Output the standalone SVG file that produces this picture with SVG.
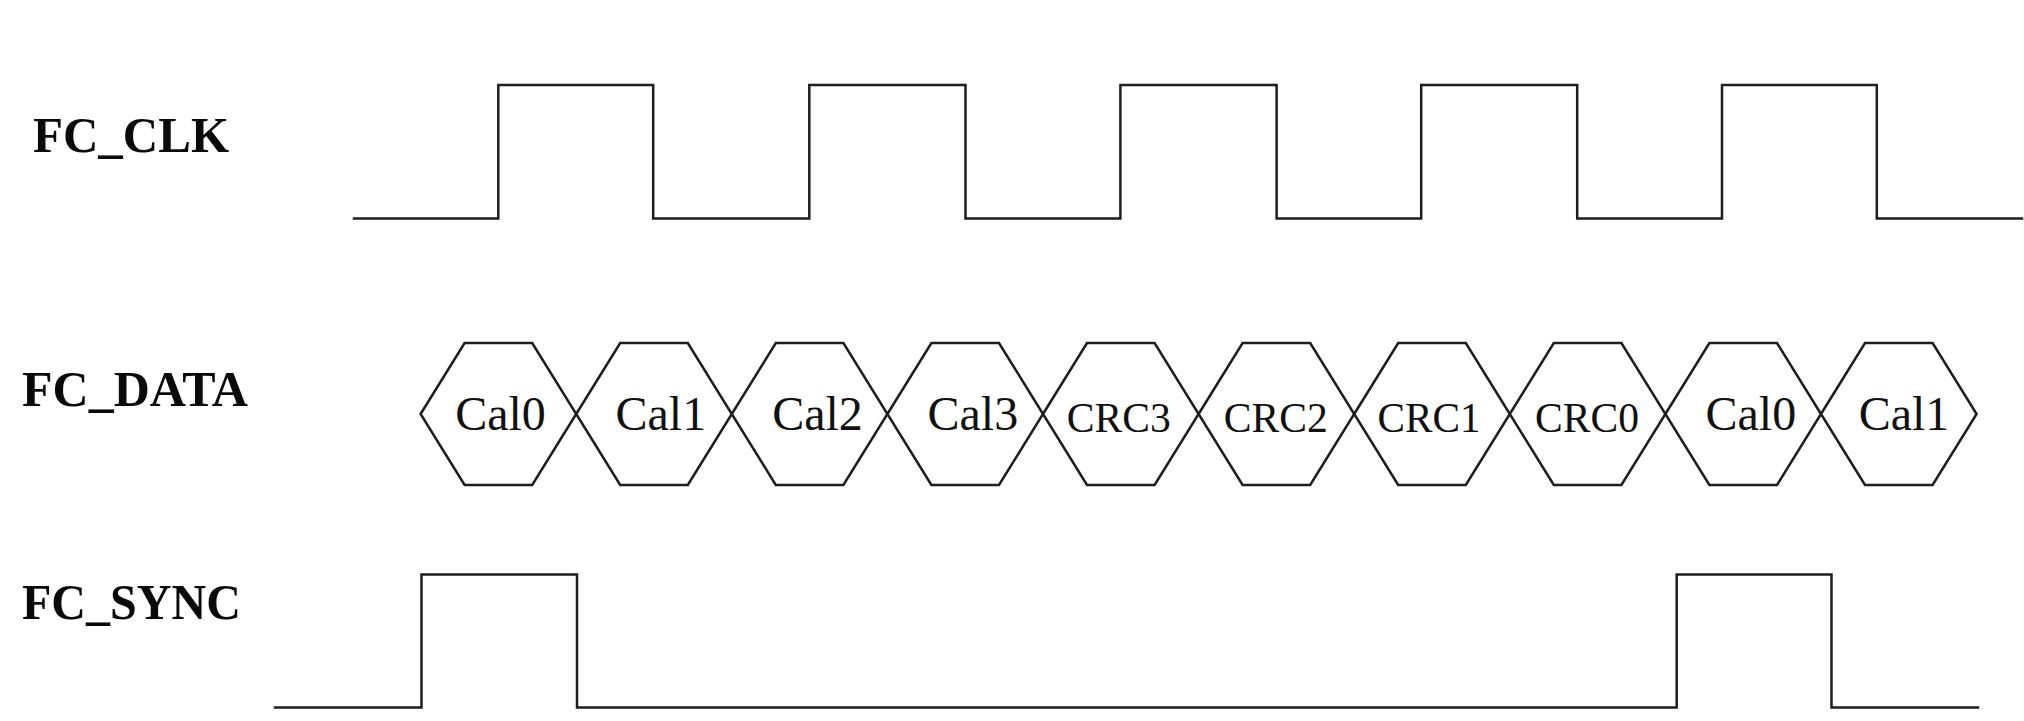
<svg xmlns="http://www.w3.org/2000/svg" width="2024" height="721" viewBox="0 0 2024 721">
<style>
.bg{fill:#ffffff}
.wave{fill:none;stroke:#1e1e1e;stroke-width:2.5;stroke-linejoin:miter;stroke-linecap:square}
.hex{fill:#ffffff;stroke:#1e1e1e;stroke-width:2.5;stroke-linejoin:miter}
.sig{font-family:"Liberation Serif","Times New Roman",serif;font-weight:bold;fill:#0a0a0a}
.cal{font-family:"Liberation Serif","Times New Roman",serif;font-size:48px;fill:#111;text-anchor:middle}
.crc{font-family:"Liberation Serif","Times New Roman",serif;font-size:42px;fill:#111;text-anchor:middle}
</style>
<rect class="bg" x="0" y="0" width="2024" height="721"/>

<g id="label-fc-clk"><text class="sig" x="33" y="152" font-size="50" textLength="196" lengthAdjust="spacingAndGlyphs">FC_CLK</text></g>
<g id="label-fc-data"><text class="sig" x="22" y="406" font-size="50" textLength="226" lengthAdjust="spacingAndGlyphs">FC_DATA</text></g>
<g id="label-fc-sync"><text class="sig" x="22" y="619" font-size="50" textLength="219" lengthAdjust="spacingAndGlyphs">FC_SYNC</text></g>

<g id="wave-fc-clk">
<path class="wave" d="M354,218.5 H498.3 V85 H653.2 V218.5 H809.3 V85 H965.5 V218.5 H1120.4 V85 H1276.6 V218.5 H1421.2 V85 H1577.2 V218.5 H1722 V85 H1876.8 V218.5 H2022"/>
</g>

<g id="wave-fc-data">
<g id="hex-cal0-a"><polygon class="hex" points="420.6,414 464.6,343 532.2,343 576.2,414 532.2,485 464.6,485"/><text class="cal" x="500.5" y="430">Cal0</text></g>
<g id="hex-cal1-a"><polygon class="hex" points="576.2,414 620.2,343 687.8,343 731.8,414 687.8,485 620.2,485"/><text class="cal" x="660.8" y="430">Cal1</text></g>
<g id="hex-cal2"><polygon class="hex" points="731.8,414 775.8,343 843.4,343 887.4,414 843.4,485 775.8,485"/><text class="cal" x="817.5" y="430">Cal2</text></g>
<g id="hex-cal3"><polygon class="hex" points="887.4,414 931.4,343 999,343 1043,414 999,485 931.4,485"/><text class="cal" x="972.8" y="430">Cal3</text></g>
<g id="hex-crc3"><polygon class="hex" points="1043,414 1087,343 1154.6,343 1198.6,414 1154.6,485 1087,485"/><text class="crc" x="1118.7" y="431.5" textLength="104" lengthAdjust="spacingAndGlyphs">CRC3</text></g>
<g id="hex-crc2"><polygon class="hex" points="1198.6,414 1242.6,343 1310.2,343 1354.2,414 1310.2,485 1242.6,485"/><text class="crc" x="1275.8" y="431.5" textLength="104" lengthAdjust="spacingAndGlyphs">CRC2</text></g>
<g id="hex-crc1"><polygon class="hex" points="1354.2,414 1398.2,343 1465.8,343 1509.8,414 1465.8,485 1398.2,485"/><text class="crc" x="1429" y="431.5" textLength="103" lengthAdjust="spacingAndGlyphs">CRC1</text></g>
<g id="hex-crc0"><polygon class="hex" points="1509.8,414 1553.8,343 1621.4,343 1665.4,414 1621.4,485 1553.8,485"/><text class="crc" x="1587" y="431.5" textLength="104" lengthAdjust="spacingAndGlyphs">CRC0</text></g>
<g id="hex-cal0-b"><polygon class="hex" points="1665.4,414 1709.4,343 1777,343 1821,414 1777,485 1709.4,485"/><text class="cal" x="1750.8" y="430">Cal0</text></g>
<g id="hex-cal1-b"><polygon class="hex" points="1821,414 1865,343 1932.6,343 1976.6,414 1932.6,485 1865,485"/><text class="cal" x="1904" y="430">Cal1</text></g>
</g>

<g id="wave-fc-sync">
<path class="wave" d="M275,707.5 H421.5 V574.5 H577 V707.5 H1676.7 V574.5 H1831.5 V707.5 H1978"/>
</g>
</svg>
